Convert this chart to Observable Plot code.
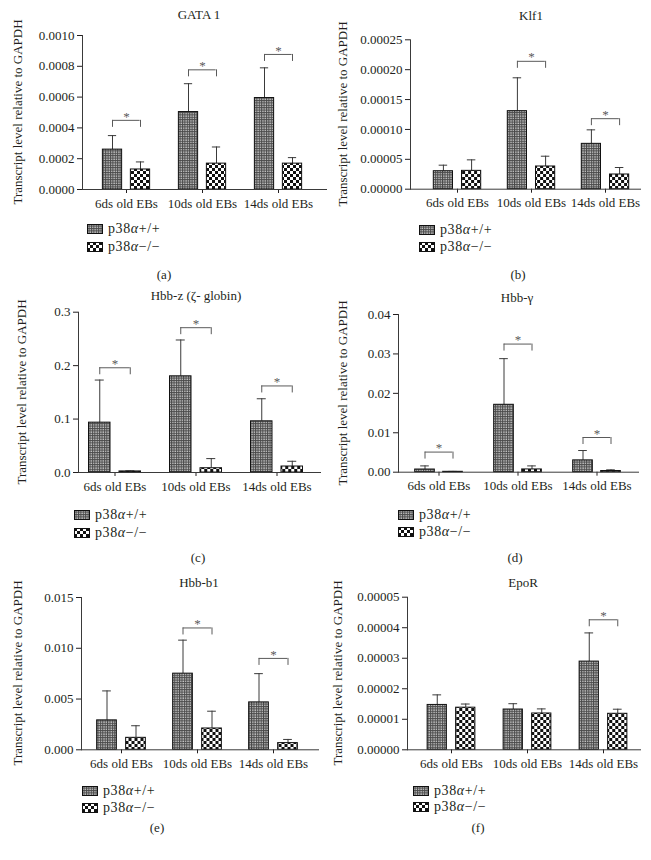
<!DOCTYPE html>
<html>
<head>
<meta charset="utf-8">
<script src="https://cdn.jsdelivr.net/npm/d3@7"></script>
<script src="https://cdn.jsdelivr.net/npm/@observablehq/plot@0.6"></script>
<style>
  html, body { margin: 0; padding: 0; background: #fff; }
  #page { position: relative; width: 651px; height: 860px; overflow: hidden; background: #fff;
          font-family: "Liberation Serif", "Times New Roman", serif; color: #231f20; }
  .abs { position: absolute; white-space: nowrap; line-height: 1; font-family: "Liberation Serif", "Times New Roman", serif; }
  .center { transform: translate(-50%, -50%); font-size: 13px; }
  .ylab { transform: translate(-50%, -50%) rotate(-90deg); font-size: 13px; }
  .leg { display: flex; align-items: center; transform: translateY(-50%); font-size: 14px; letter-spacing: 0.6px; }
  .leg svg { margin-right: 5px; display: block; }
  .panel { position: absolute; }
</style>
</head>
<body>
<svg width="0" height="0" style="position:absolute">
  <defs>
    <pattern id="patWT" patternUnits="userSpaceOnUse" width="2.4" height="2.4">
      <rect width="2.4" height="2.4" fill="#4a4a4a"></rect>
      <rect x="0.3" y="0.3" width="1.2" height="1.2" fill="#f0f0f0"></rect>
    </pattern>
    <pattern id="patKO" patternUnits="userSpaceOnUse" width="6" height="6">
      <rect width="6" height="6" fill="#ffffff"></rect>
      <rect x="0" y="0" width="3" height="3" fill="#111"></rect>
      <rect x="3" y="3" width="3" height="3" fill="#111"></rect>
    </pattern>
  </defs>
</svg>
<div id="page"></div>
<script>
// ---------- data ----------
const groups = ["6ds old EBs", "10ds old EBs", "14ds old EBs"];
const genotypes = ["p38α+/+", "p38α−/−"];
const genes = ["GATA 1", "Klf1", "Hbb-z (ζ- globin)", "Hbb-γ", "Hbb-b1", "EpoR"];
const panelLabels = ["(a)", "(b)", "(c)", "(d)", "(e)", "(f)"];
const yTitle = "Transcript level relative to GAPDH";

// GATA 1
const gata1WT = [0.000259, 0.000503, 0.000594];
const gata1KO = [0.000130, 0.000168, 0.000168];
const gata1WTTop = [0.000350, 0.000687, 0.000790];
const gata1KOTop = [0.000179, 0.000276, 0.000207];
const gata1Sig = [0.000449, 0.000777, 0.000877];
const gata1Ticks = [0, 0.0002, 0.0004, 0.0006, 0.0008, 0.0010];

// Klf1
const klf1WT = [0.0000301, 0.0001306, 0.0000759];
const klf1KO = [0.0000307, 0.0000380, 0.0000246];
const klf1WTTop = [0.0000402, 0.0001864, 0.0000993];
const klf1KOTop = [0.0000491, 0.0000552, 0.0000363];
const klf1Sig = [null, 0.000214, 0.000118];
const klf1Ticks = [0, 0.00005, 0.00010, 0.00015, 0.00020, 0.00025];

// Hbb-z
const hbbzWT = [0.0933, 0.180, 0.0958];
const hbbzKO = [0.002, 0.008, 0.0112];
const hbbzWTTop = [0.173, 0.248, 0.138];
const hbbzKOTop = [0.003, 0.026, 0.021];
const hbbzSig = [0.196, 0.271, 0.162];
const hbbzTicks = [0, 0.1, 0.2, 0.3];

// Hbb-y
const hbbyWT = [0.00068, 0.0171, 0.0030];
const hbbyKO = [0.0001, 0.0007, 0.0003];
const hbbyWTTop = [0.0016, 0.0288, 0.0055];
const hbbyKOTop = [0.0002, 0.0016, 0.0006];
const hbbySig = [0.0051, 0.0325, 0.0088];
const hbbyTicks = [0, 0.01, 0.02, 0.03, 0.04];

// Hbb-b1
const hbbb1WT = [0.0029, 0.0075, 0.00467];
const hbbb1KO = [0.00118, 0.0021, 0.00066];
const hbbb1WTTop = [0.0058, 0.0108, 0.0075];
const hbbb1KOTop = [0.00237, 0.0038, 0.00102];
const hbbb1Sig = [null, 0.0120, 0.0090];
const hbbb1Ticks = [0, 0.005, 0.010, 0.015];

// EpoR
const eporWT = [0.0000147, 0.0000132, 0.0000289];
const eporKO = [0.0000138, 0.0000119, 0.0000118];
const eporWTTop = [0.0000180, 0.0000151, 0.0000383];
const eporKOTop = [0.0000150, 0.0000134, 0.0000133];
const eporSig = [null, null, 0.0000426];
const eporTicks = [0, 0.00001, 0.00002, 0.00003, 0.00004, 0.00005];

const panels = [
  {wt: gata1WT, ko: gata1KO, wtTop: gata1WTTop, koTop: gata1KOTop, sig: gata1Sig, ticks: gata1Ticks, dec: 4},
  {wt: klf1WT, ko: klf1KO, wtTop: klf1WTTop, koTop: klf1KOTop, sig: klf1Sig, ticks: klf1Ticks, dec: 5},
  {wt: hbbzWT, ko: hbbzKO, wtTop: hbbzWTTop, koTop: hbbzKOTop, sig: hbbzSig, ticks: hbbzTicks, dec: 1},
  {wt: hbbyWT, ko: hbbyKO, wtTop: hbbyWTTop, koTop: hbbyKOTop, sig: hbbySig, ticks: hbbyTicks, dec: 2},
  {wt: hbbb1WT, ko: hbbb1KO, wtTop: hbbb1WTTop, koTop: hbbb1KOTop, sig: hbbb1Sig, ticks: hbbb1Ticks, dec: 3},
  {wt: eporWT, ko: eporKO, wtTop: eporWTTop, koTop: eporKOTop, sig: eporSig, ticks: eporTicks, dec: 5}
];

// ---------- layout (page pixels) ----------
const layouts = [
  {left: 0,   top: 0,   w: 330, h: 225, mL: 82, mR: 4,  mT: 35,   mB: 36,   c1: 125,   c3: 278.5, barW: 20,   off: 14,    ylabX: 17,  title: [199, 14],  leg: [87, 229, 247],  cap: [164, 274]},
  {left: 325, top: 0,   w: 326, h: 225, mL: 85, mR: 11, mT: 39.3, mB: 36.3, c1: 456,   c3: 605,   barW: 19.7, off: 14.1,  ylabX: 342, title: [531, 15],  leg: [419, 230, 247], cap: [518, 274]},
  {left: 0,   top: 280, w: 330, h: 225, mL: 78, mR: 10, mT: 31.7, mB: 33,   c1: 114,   c3: 276,   barW: 21.5, off: 15.25, ylabX: 21,  title: [196, 295], leg: [74, 515, 533],  cap: [198, 557]},
  {left: 325, top: 280, w: 326, h: 225, mL: 73, mR: 13, mT: 34,   mB: 33.3, c1: 438,   c3: 596.7, barW: 20,   off: 14,    ylabX: 342, title: [517, 297], leg: [398, 515, 532], cap: [515, 557]},
  {left: 0,   top: 570, w: 330, h: 215, mL: 81, mR: 12, mT: 27,   mB: 35.7, c1: 120.2, c3: 272.8, barW: 20,   off: 14.5,  ylabX: 17,  title: [199, 582], leg: [82, 791, 808],  cap: [157, 827]},
  {left: 325, top: 570, w: 326, h: 215, mL: 82, mR: 11, mT: 26.7, mB: 35.7, c1: 450.5, c3: 603,   barW: 19.5, off: 14.25, ylabX: 337, title: [523, 582], leg: [413, 791, 807], cap: [478, 827]}
];

const page = document.getElementById("page");
function addDiv(html, x, y, cls) {
  const d = document.createElement("div");
  d.className = "abs " + cls;
  d.innerHTML = html;
  d.style.left = x + "px";
  d.style.top = y + "px";
  page.appendChild(d);
  return d;
}
function swatch(pat) {
  return `<svg width="16" height="10"><rect x="0.5" y="0.5" width="15" height="9" fill="url(#${pat})" stroke="#111" stroke-width="1"></rect></svg>`;
}
function legendText(s) {
  return "<span>" + s.replace("α", "<i>α</i>") + "</span>";
}

panels.forEach((P, i) => {
  const L = layouts[i];
  const rows = groups.map((g, j) => ({group: g, wt: P.wt[j], ko: P.ko[j], wtTop: P.wtTop[j], koTop: P.koTop[j], sig: P.sig[j]}));
  const sigRows = rows.filter(d => d.sig != null);
  const step = (L.c3 - L.c1) / 2;
  const r0 = L.c1 - L.left - step / 2;
  const r1 = L.c3 - L.left + step / 2;
  const barInset = (step - L.barW) / 2;
  const capInset = step / 2 - 4.5;
  const brInset = step / 2 - L.off;
  const ink = "#3a3a3a";
  const brk = "#5a5a5a";

  const chart = Plot.plot({
    width: L.w, height: L.h,
    marginLeft: L.mL, marginRight: L.mR, marginTop: L.mT, marginBottom: L.mB,
    style: {fontFamily: "'Liberation Serif', 'Times New Roman', serif", fontSize: "13px", color: "#231f20", background: "transparent", overflow: "visible"},
    x: {type: "band", domain: groups, range: [r0, r1], padding: 0, label: null, tickSize: 4, tickPadding: 5},
    y: {domain: [0, P.ticks[P.ticks.length - 1]], ticks: P.ticks, tickFormat: d => d.toFixed(P.dec), label: null, tickSize: 5, tickPadding: 3},
    marks: [
      Plot.ruleX(rows, {x: "group", y1: "wt", y2: "wtTop", dx: -L.off, stroke: ink, strokeWidth: 1}),
      Plot.ruleY(rows, {x1: "group", x2: "group", y: "wtTop", dx: -L.off, insetLeft: capInset, insetRight: capInset, stroke: ink, strokeWidth: 1}),
      Plot.ruleX(rows, {x: "group", y1: "ko", y2: "koTop", dx: L.off, stroke: ink, strokeWidth: 1}),
      Plot.ruleY(rows, {x1: "group", x2: "group", y: "koTop", dx: L.off, insetLeft: capInset, insetRight: capInset, stroke: ink, strokeWidth: 1}),
      Plot.barY(rows, {x: "group", y: "wt", dx: -L.off, insetLeft: barInset, insetRight: barInset, fill: "url(#patWT)", stroke: "#111", strokeWidth: 1}),
      Plot.barY(rows, {x: "group", y: "ko", dx: L.off, insetLeft: barInset, insetRight: barInset, fill: "url(#patKO)", stroke: "#111", strokeWidth: 1}),
      Plot.ruleY(sigRows, {x1: "group", x2: "group", y: "sig", insetLeft: brInset, insetRight: brInset, stroke: brk, strokeWidth: 1}),
      Plot.ruleX(sigRows, {x: "group", y1: "sig", y2: "sig", dx: -L.off, insetBottom: -7, stroke: brk, strokeWidth: 1}),
      Plot.ruleX(sigRows, {x: "group", y1: "sig", y2: "sig", dx: L.off, insetBottom: -7, stroke: brk, strokeWidth: 1}),
      Plot.text(sigRows, {x: "group", y: "sig", text: () => "*", dy: -4, fill: brk, fontSize: 13}),
      Plot.frame({anchor: "left", stroke: ink}),
      Plot.frame({anchor: "bottom", stroke: ink})
    ]
  });
  chart.classList.add("panel");
  chart.style.left = L.left + "px";
  chart.style.top = L.top + "px";
  page.appendChild(chart);

  // title, y label, legend, caption
  addDiv(genes[i], L.title[0], L.title[1], "center");
  const plotTop = L.top + L.mT, plotBottom = L.top + L.h - L.mB;
  addDiv(yTitle, L.ylabX, (plotTop + plotBottom) / 2, "ylab");
  addDiv(swatch("patWT") + legendText(genotypes[0]), L.leg[0], L.leg[1], "leg");
  addDiv(swatch("patKO") + legendText(genotypes[1]), L.leg[0], L.leg[2], "leg");
  addDiv(panelLabels[i], L.cap[0], L.cap[1], "center");
});
</script>
</body>
</html>
